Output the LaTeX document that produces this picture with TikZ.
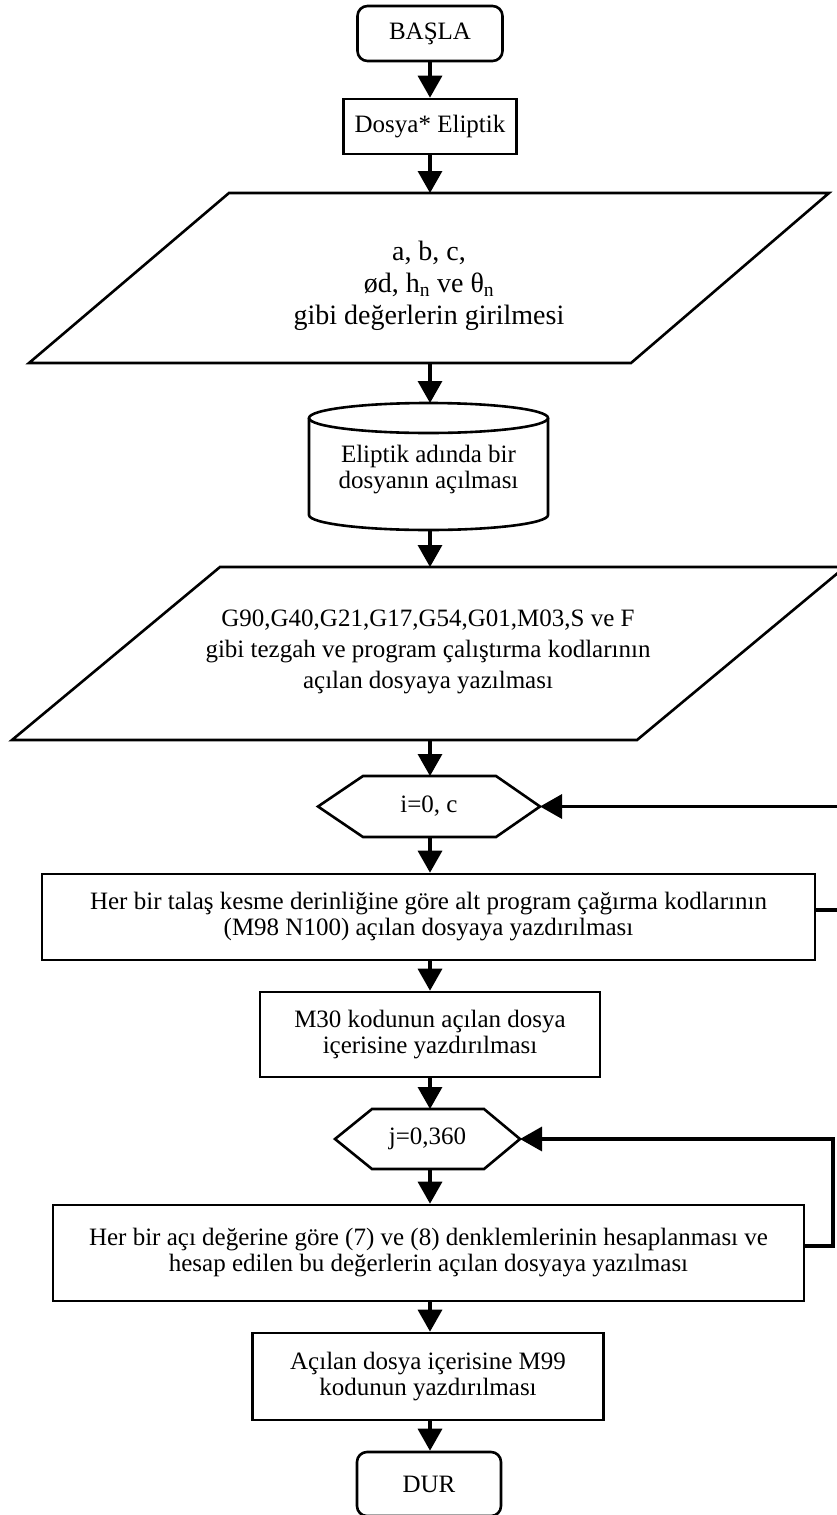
\documentclass[tikz,border=0pt]{standalone}
\usepackage{fontspec}
\setmainfont{Liberation Serif}
\usetikzlibrary{arrows.meta}
\begin{document}
\begin{tikzpicture}[x=1pt,y=-1pt,
  box/.style={draw, line width=2.6pt, inner sep=0pt, align=center, font=\fontsize{25}{26}\selectfont},
  term/.style={box, rounded corners=10pt},
  shp/.style={draw, line width=2.6pt, line join=miter},
  txt/.style={align=center, inner sep=0pt, font=\fontsize{25}{26}\selectfont},
  arr/.style={line width=3.3pt, -{Triangle[length=22pt,width=24pt]}},
]
\useasboundingbox (0,0) rectangle (836,1515);

% start / file
\node[term, minimum width=145pt, minimum height=55pt] (basla) at (430,33.5) {BAŞLA};
\node[box, minimum width=173pt, minimum height=55pt] (dosya) at (430,126.5) {Dosya* Eliptik};

% input parallelogram 1
\draw[shp] (229,193) -- (829,193) -- (631,363) -- (29,363) -- cycle;
\coordinate (p1top) at (430,193);
\coordinate (p1bot) at (430,363);
\node[txt, font=\fontsize{28}{32}\selectfont] (p1) at (429,286) {a, b, c,\\ød, h\textsubscript{n} ve θ\textsubscript{n}\\gibi değerlerin girilmesi};

% cylinder
\draw[shp] (309,418) -- (309,515) arc[start angle=180, end angle=0, x radius=119.5, y radius=15] -- (548,418);
\draw[shp] (428.5,418) ellipse [x radius=119.5, y radius=15];
\coordinate (cyltop) at (430,403);
\coordinate (cylbot) at (430,530);
\node[txt] (cyl) at (428.5,470) {Eliptik adında bir\\dosyanın açılması};

% parallelogram 2
\draw[shp] (220,567) -- (845,567) -- (637,740) -- (12,740) -- cycle;
\coordinate (p2top) at (430,567);
\coordinate (p2bot) at (430,740);
\node[txt, font=\fontsize{25}{31}\selectfont] (p2) at (428,652) {G90,G40,G21,G17,G54,G01,M03,S ve F\\gibi tezgah ve program çalıştırma kodlarının\\açılan dosyaya yazılması};

% hexagon i
\draw[shp] (318,806.5) -- (363,776) -- (496,776) -- (540,806.5) -- (496,837) -- (363,837) -- cycle;
\coordinate (hitop) at (430,776);
\coordinate (hibot) at (430,837);
\coordinate (hieast) at (540,806.5);
\node[txt] (hi) at (429,806.5) {i=0, c};

% rect 1
\node[box, minimum width=773pt, minimum height=86pt] (rect1) at (428.5,917) {Her bir talaş kesme derinliğine göre alt program çağırma kodlarının\\(M98 N100) açılan dosyaya yazdırılması};

% M30
\node[box, minimum width=340pt, minimum height=85pt] (m30) at (430,1034.5) {M30 kodunun açılan dosya\\içerisine yazdırılması};

% hexagon j
\draw[shp] (335,1139) -- (372,1109) -- (484,1109) -- (520,1139) -- (484,1169) -- (372,1169) -- cycle;
\coordinate (hjtop) at (430,1109);
\coordinate (hjbot) at (430,1169);
\coordinate (hjeast) at (520,1139);
\node[txt] (hj) at (427.5,1139) {j=0,360};

% rect 2
\node[box, minimum width=751pt, minimum height=96pt] (rect2) at (428.5,1253) {Her bir açı değerine göre (7) ve (8) denklemlerinin hesaplanması ve\\hesap edilen bu değerlerin açılan dosyaya yazılması};

% M99
\node[box, minimum width=351pt, minimum height=87pt] (m99) at (428,1376.5) {Açılan dosya içerisine M99\\kodunun yazdırılması};

% stop
\node[term, minimum width=144pt, minimum height=64pt] (dur) at (429,1484) {DUR};

% main flow
\draw[arr] (basla.south) -- (basla.south |- dosya.north);
\draw[arr] (dosya.south) -- (p1top);
\draw[arr] (p1bot) -- (cyltop);
\draw[arr] (cylbot) -- (p2top);
\draw[arr] (p2bot) -- (hitop);
\draw[arr] (hibot) -- (hibot |- rect1.north);
\draw[arr] (rect1.south -| m30.north) -- (m30.north);
\draw[arr] (m30.south) -- (hjtop);
\draw[arr] (hjbot) -- (hjbot |- rect2.north);
\draw[arr] (rect2.south -| m30.south) -- (m30.south |- m99.north);
\draw[arr] (m99.south -| m30.south) -- (m30.south |- dur.north);

% loops
\coordinate (l1a) at (815,910);
\coordinate (l1b) at (846,910);
\coordinate (l1c) at (846,806.5);
\draw[arr] (l1a) -- (l1b) -- (l1c) -- (hieast);
\coordinate (l2a) at (804,1246);
\coordinate (l2b) at (833,1246);
\coordinate (l2c) at (833,1139);
\draw[arr] (l2a) -- (l2b) -- (l2c) -- (hjeast);
\end{tikzpicture}
\end{document}
